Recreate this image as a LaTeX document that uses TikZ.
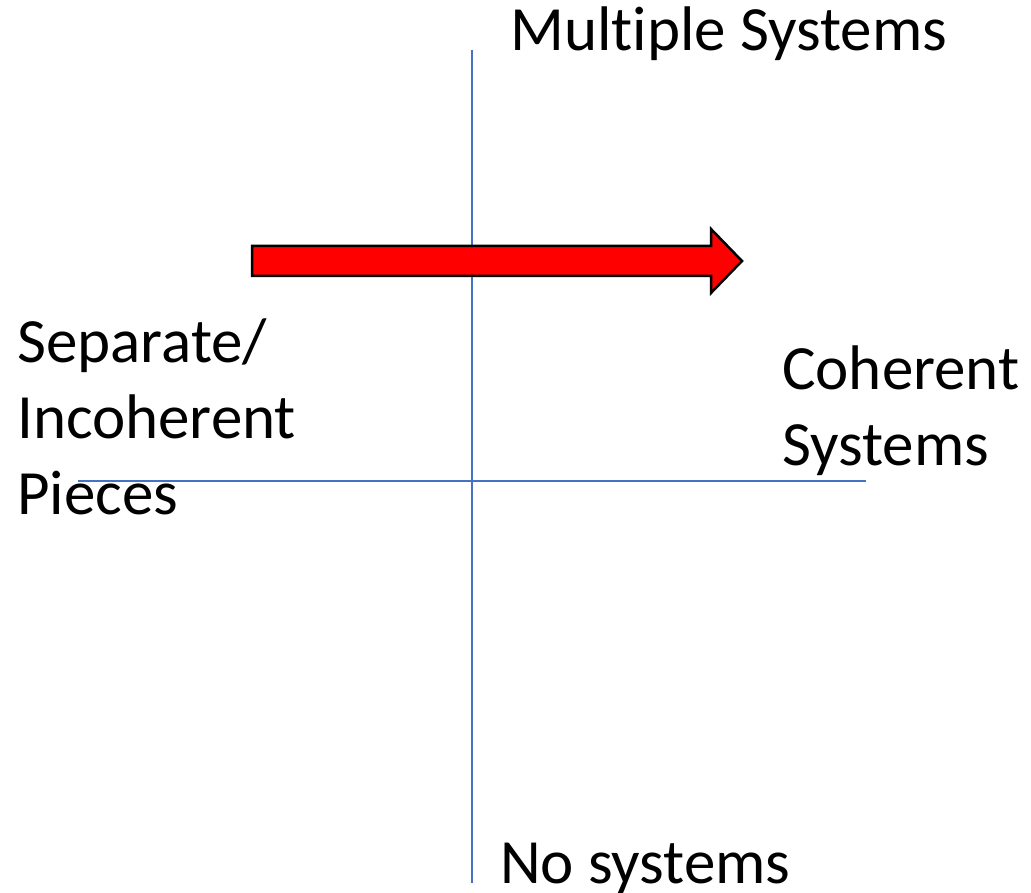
\documentclass[tikz,border=0pt]{standalone}
\usepackage{fontspec}
\setmainfont[Ligatures=NoCommon]{Carlito}
\definecolor{axisblue}{RGB}{68,114,196}

\tikzstyle{axis}=[
    draw=axisblue,
    line width=2pt
]
\tikzstyle{caption}=[
    inner sep=0pt,
    align=left,
    anchor=base west,
    font=\fontsize{63}{76}\selectfont
]
\tikzstyle{movearrow}=[
    draw=black,
    fill=red,
    line width=2.5pt,
    line join=miter
]

\begin{document}
\begin{tikzpicture}[x=1pt,y=-1pt,>=latex]
	\useasboundingbox (0,0) rectangle (1031,893);
	% axis ends
	\coordinate (top) at (472,50);
	\coordinate (bottom) at (472,883);
	\coordinate (left) at (78,481);
	\coordinate (right) at (866,481);

	% labels
	\node (multi) [caption] at (510,51) {Multiple Systems};
	\node (none) [caption] at (500,883) {No systems};
	\node (separate) [caption] at (17,514) {Separate/\\Incoherent\\Pieces};
	\node (coherent) [caption] at (782,465) {Coherent\\Systems};

	% axes
	\draw[axis] (top) -- (bottom);
	\draw[axis] (left) -- (right);

	% block arrow
	\draw[movearrow] (252,246) -- (711,246) -- (711,229) -- (742,261)
	  -- (711,293) -- (711,276) -- (252,276) -- cycle;
\end{tikzpicture}
\end{document}
